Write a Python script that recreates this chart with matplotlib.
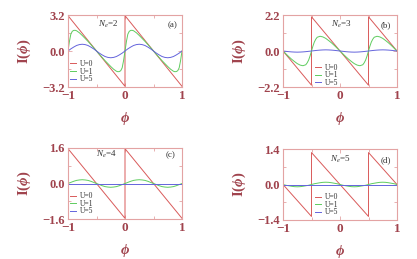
import matplotlib
matplotlib.use("Agg")
import matplotlib.pyplot as plt
from matplotlib import font_manager
from matplotlib.ft2font import FT2Font

plt.rcParams['font.family'] = ['Liberation Serif', 'DejaVu Serif']
plt.rcParams['mathtext.fontset'] = 'custom'
plt.rcParams['mathtext.rm'] = 'Liberation Serif'
plt.rcParams['mathtext.it'] = 'Liberation Serif:italic'
plt.rcParams['mathtext.bf'] = 'Liberation Serif:bold'
plt.rcParams['mathtext.bfit'] = 'Liberation Serif:italic:bold'

# choose the straight phi glyph if the serif font has it
_fp = font_manager.findfont(font_manager.FontProperties(family='Liberation Serif', style='italic', weight='bold'))
try:
    _has = 0x03D5 in FT2Font(_fp).get_charmap()
except Exception:
    _has = False
PHI = '\u03d5' if _has else '\u03c6'

TXT = '#a0434d'
FRAME = '#e3a3a3'
C_RED = '#d95a5a'
C_GRN = '#5fcc5f'
C_BLU = '#6464dc'

# ---------------- data ----------------
labels = ['U=0', 'U=1', 'U=5']
panel_tags = ['(a)', '(b)', '(c)', '(d)']
Ne_values = [2, 3, 4, 5]
ylims = [3.2, 2.2, 1.6, 1.4]
ytick_labels = [['\u22123.2', '0.0', '3.2'], ['\u22122.2', '0.0', '2.2'],
                ['\u22121.6', '0.0', '1.6'], ['\u22121.4', '0.0', '1.4']]
xtick_vals = [-1, 0, 1]
xtick_labels = ['\u22121', '0', '1']

# step-0.05 grid from -1 to 1
phi_std = [-1.0, -0.95, -0.9, -0.85, -0.8, -0.75, -0.7, -0.65, -0.6, -0.55,
           -0.5, -0.45, -0.4, -0.35, -0.3, -0.25, -0.2, -0.15, -0.1, -0.05,
           0.0, 0.05, 0.1, 0.15, 0.2, 0.25, 0.3, 0.35, 0.4, 0.45,
           0.5, 0.55, 0.6, 0.65, 0.7, 0.75, 0.8, 0.85, 0.9, 0.95, 1.0]

# Panel (a) Ne=2
phi_a0 = [-1.0, 0.0, 0.0, 1.0]
I_a0 = [3.14, -3.14, 3.14, -3.14]
phi_a1 = [-1.0, -0.975, -0.95, -0.925, -0.9, -0.875, -0.85,
          -0.8, -0.75, -0.7, -0.65, -0.6, -0.55, -0.5, -0.45, -0.4, -0.35, -0.3, -0.25, -0.2, -0.15,
          -0.125, -0.1, -0.075, -0.05, -0.025, 0.0,
          0.025, 0.05, 0.075, 0.1, 0.125, 0.15,
          0.2, 0.25, 0.3, 0.35, 0.4, 0.45, 0.5, 0.55, 0.6, 0.65, 0.7, 0.75, 0.8, 0.85,
          0.875, 0.9, 0.925, 0.95, 0.975, 1.0]
I_a1 = [0.0, 0.85, 1.50, 1.75, 1.83, 1.84, 1.80,
        1.62, 1.38, 1.12, 0.86, 0.58, 0.29, 0.0, -0.29, -0.58, -0.86, -1.12, -1.38, -1.62, -1.80,
        -1.84, -1.83, -1.75, -1.50, -0.85, 0.0,
        0.85, 1.50, 1.75, 1.83, 1.84, 1.80,
        1.62, 1.38, 1.12, 0.86, 0.58, 0.29, 0.0, -0.29, -0.58, -0.86, -1.12, -1.38, -1.62, -1.80,
        -1.84, -1.83, -1.75, -1.50, -0.85, 0.0]
I_a5 = [0.0, 0.19, 0.35, 0.49, 0.57, 0.60, 0.57, 0.49, 0.35, 0.19,
        0.0, -0.19, -0.35, -0.49, -0.57, -0.60, -0.57, -0.49, -0.35, -0.19,
        0.0, 0.19, 0.35, 0.49, 0.57, 0.60, 0.57, 0.49, 0.35, 0.19,
        0.0, -0.19, -0.35, -0.49, -0.57, -0.60, -0.57, -0.49, -0.35, -0.19, 0.0]

# Panel (b) Ne=3
phi_b0 = [-1.0, -0.5, -0.5, 0.5, 0.5, 1.0]
I_b0 = [0.0, -2.09, 2.09, -2.09, 2.09, 0.0]
phi_b1 = [-1.0, -0.95, -0.9, -0.85, -0.8, -0.75, -0.7, -0.65, -0.6,
          -0.575, -0.55, -0.525, -0.5, -0.475, -0.45, -0.425, -0.4,
          -0.35, -0.3, -0.25, -0.2, -0.15, -0.1, -0.05, 0.0,
          0.05, 0.1, 0.15, 0.2, 0.25, 0.3, 0.35, 0.4,
          0.425, 0.45, 0.475, 0.5, 0.525, 0.55, 0.575, 0.6,
          0.65, 0.7, 0.75, 0.8, 0.85, 0.9, 0.95, 1.0]
I_b1 = [0.0, -0.17, -0.34, -0.50, -0.64, -0.77, -0.86, -0.90, -0.84,
        -0.72, -0.55, -0.30, 0.0, 0.30, 0.55, 0.72, 0.84,
        0.90, 0.86, 0.77, 0.64, 0.50, 0.34, 0.17, 0.0,
        -0.17, -0.34, -0.50, -0.64, -0.77, -0.86, -0.90, -0.84,
        -0.72, -0.55, -0.30, 0.0, 0.30, 0.55, 0.72, 0.84,
        0.90, 0.86, 0.77, 0.64, 0.50, 0.34, 0.17, 0.0]
I_b5 = [0.0, -0.02, -0.04, -0.055, -0.065, -0.07, -0.065, -0.055, -0.04, -0.02,
        0.0, 0.02, 0.04, 0.055, 0.065, 0.07, 0.065, 0.055, 0.04, 0.02,
        0.0, -0.02, -0.04, -0.055, -0.065, -0.07, -0.065, -0.055, -0.04, -0.02,
        0.0, 0.02, 0.04, 0.055, 0.065, 0.07, 0.065, 0.055, 0.04, 0.02, 0.0]

# Panel (c) Ne=4
phi_c0 = [-1.0, 0.0, 0.0, 1.0]
I_c0 = [1.57, -1.57, 1.57, -1.57]
I_c1 = [0.0, 0.05, 0.10, 0.14, 0.16, 0.17, 0.16, 0.14, 0.10, 0.05,
        0.0, -0.05, -0.10, -0.14, -0.16, -0.17, -0.16, -0.14, -0.10, -0.05,
        0.0, 0.05, 0.10, 0.14, 0.16, 0.17, 0.16, 0.14, 0.10, 0.05,
        0.0, -0.05, -0.10, -0.14, -0.16, -0.17, -0.16, -0.14, -0.10, -0.05, 0.0]
phi_c5 = [-1.0, 0.0, 1.0]
I_c5 = [0.0, 0.0, 0.0]

# Panel (d) Ne=5
phi_d0 = [-1.0, -0.5, -0.5, 0.5, 0.5, 1.0]
I_d0 = [0.0, -1.26, 1.26, -1.26, 1.26, 0.0]
I_d1 = [0.0, -0.03, -0.05, -0.07, -0.085, -0.09, -0.085, -0.07, -0.05, -0.03,
        0.0, 0.03, 0.05, 0.07, 0.085, 0.09, 0.085, 0.07, 0.05, 0.03,
        0.0, -0.03, -0.05, -0.07, -0.085, -0.09, -0.085, -0.07, -0.05, -0.03,
        0.0, 0.03, 0.05, 0.07, 0.085, 0.09, 0.085, 0.07, 0.05, 0.03, 0.0]
phi_d5 = [-1.0, 0.0, 1.0]
I_d5 = [0.0, 0.0, 0.0]

curves = [
    [(phi_a0, I_a0), (phi_a1, I_a1), (phi_std, I_a5)],
    [(phi_b0, I_b0), (phi_b1, I_b1), (phi_std, I_b5)],
    [(phi_c0, I_c0), (phi_std, I_c1), (phi_c5, I_c5)],
    [(phi_d0, I_d0), (phi_std, I_d1), (phi_d5, I_d5)],
]

# ---------------- layout ----------------
W, H = 417, 259
fig = plt.figure(figsize=(W / 100, H / 100), dpi=100)

boxes = [(68, 15, 182, 87), (283, 15, 397, 87), (68, 148, 182, 219), (283, 149, 397, 220)]
Ne_pos = [(0.35, 0.875), (0.51, 0.875), (0.34, 0.905), (0.50, 0.86)]
tag_pos = [(0.915, 0.865), (0.905, 0.865), (0.90, 0.905), (0.90, 0.84)]
leg_anchor = [(0.02, 0.05), (0.28, 0.0), (0.02, 0.05), (0.28, 0.05)]
colors = [C_RED, C_GRN, C_BLU]

ylab = r'$\mathbf{I(}\mathbfit{' + PHI + r'}\mathbf{)}$'
xlab = r'$\mathbfit{' + PHI + r'}$'

for k in range(4):
    x0, y0, x1, y1 = boxes[k]
    ax = fig.add_axes([x0 / W, 1 - y1 / H, (x1 - x0) / W, (y1 - y0) / H])
    for (px, py), c, lab in zip(curves[k], colors, labels):
        ax.plot(px, py, color=c, lw=0.7, label=lab)
    ym = ylims[k]
    ax.set_xlim(-1, 1)
    ax.set_ylim(-ym, ym)
    ax.set_xticks(xtick_vals)
    ax.set_xticklabels(xtick_labels)
    ax.set_xticks([-0.5, 0.5], minor=True)
    ax.set_yticks([-ym, 0, ym])
    ax.set_yticklabels(ytick_labels[k])
    ax.set_yticks([-ym / 2, ym / 2], minor=True)
    ax.tick_params(which='both', direction='in', top=True, right=True, color=FRAME, width=0.6)
    ax.tick_params(which='major', length=3)
    ax.tick_params(which='minor', length=2)
    ax.tick_params(axis='y', which='major', labelsize=9, pad=2.5, labelcolor=TXT)
    ax.tick_params(axis='x', which='major', labelsize=9.5, pad=2, labelcolor=TXT)
    for lbl in ax.get_xticklabels() + ax.get_yticklabels():
        lbl.set_fontweight('bold')
    for s in ax.spines.values():
        s.set_color(FRAME)
        s.set_linewidth(0.8)
    ax.set_ylabel(ylab, fontsize=10.5, color=TXT)
    ax.yaxis.set_label_coords(-0.31, 0.5)
    ax.set_xlabel(xlab, fontsize=10.5, color=TXT)
    ax.xaxis.set_label_coords(0.5, -0.32)
    ax.text(Ne_pos[k][0], Ne_pos[k][1], r'$N_e\!=\!%d$' % Ne_values[k], transform=ax.transAxes,
            ha='center', va='center', fontsize=6.5, color='#333333')
    ax.text(tag_pos[k][0], tag_pos[k][1], panel_tags[k], transform=ax.transAxes,
            ha='center', va='center', fontsize=6.5, color='#333333')
    leg = ax.legend(loc='lower left', bbox_to_anchor=leg_anchor[k], frameon=False,
                    fontsize=5.5, handlelength=0.8, handletextpad=0.5, labelspacing=-0.05,
                    borderpad=0, borderaxespad=0)
    for t in leg.get_texts():
        t.set_color('#333333')

fig.savefig('out.png', dpi=100)
